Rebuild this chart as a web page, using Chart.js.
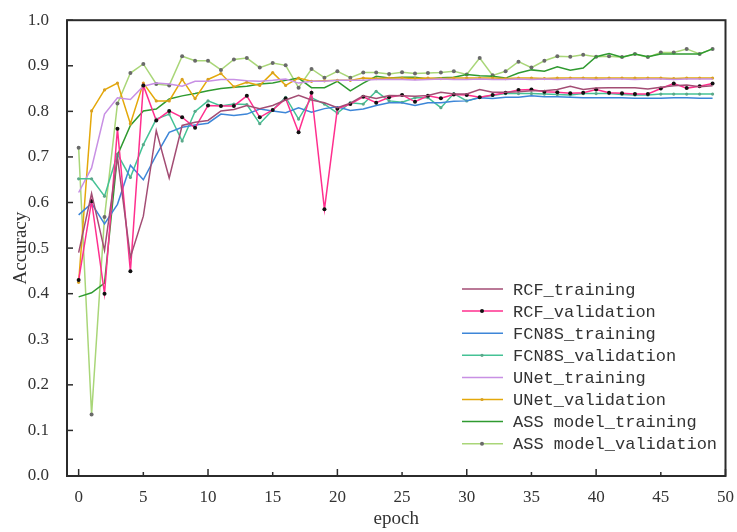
<!DOCTYPE html>
<html>
<head>
<meta charset="utf-8">
<script src="https://cdn.jsdelivr.net/npm/chart.js@4/dist/chart.umd.min.js"></script>
<style>
    html, body { margin: 0; padding: 0; background: #fff; }
    #wrap { width: 737px; height: 532px; }
</style>
</head>
<body>
<div id="wrap"><canvas id="accChart" width="737" height="532"></canvas></div>
<script>
const epochs = [0, 1, 2, 3, 4, 5, 6, 7, 8, 9, 10, 11, 12, 13, 14, 15, 16, 17, 18, 19,
    20, 21, 22, 23, 24, 25, 26, 27, 28, 29, 30, 31, 32, 33, 34, 35, 36, 37, 38, 39,
    40, 41, 42, 43, 44, 45, 46, 47, 48, 49];
const xTicks = [0, 5, 10, 15, 20, 25, 30, 35, 40, 45, 50];
const yTicks = [0, 0.1, 0.2, 0.3, 0.4, 0.5, 0.6, 0.7, 0.8, 0.9, 1.0];

const rcfTraining = [0.49, 0.62, 0.495, 0.70, 0.48, 0.57, 0.758, 0.654, 0.769, 0.776,
    0.78, 0.801, 0.804, 0.813, 0.806, 0.813, 0.825, 0.835, 0.825, 0.819,
    0.808, 0.818, 0.834, 0.828, 0.835, 0.834, 0.833, 0.835, 0.842, 0.838,
    0.838, 0.848, 0.842, 0.842, 0.843, 0.845, 0.845, 0.848, 0.855, 0.848,
    0.851, 0.852, 0.852, 0.852, 0.849, 0.853, 0.856, 0.858, 0.854, 0.856];
const rcfValidation = [0.43, 0.603, 0.40, 0.762, 0.449, 0.857, 0.78, 0.801, 0.787, 0.764,
    0.813, 0.812, 0.812, 0.834, 0.787, 0.803, 0.828, 0.754, 0.841, 0.585,
    0.806, 0.816, 0.832, 0.819, 0.831, 0.836, 0.821, 0.834, 0.829, 0.837,
    0.836, 0.831, 0.836, 0.841, 0.847, 0.848, 0.843, 0.842, 0.840, 0.841,
    0.848, 0.841, 0.840, 0.838, 0.838, 0.850, 0.861, 0.851, 0.855, 0.861];
const fcnTraining = [0.573, 0.598, 0.553, 0.596, 0.682, 0.650, 0.704, 0.754, 0.765, 0.770,
    0.774, 0.794, 0.791, 0.794, 0.805, 0.801, 0.797, 0.808, 0.798, 0.806,
    0.810, 0.802, 0.805, 0.813, 0.819, 0.819, 0.813, 0.819, 0.819, 0.822,
    0.823, 0.830, 0.828, 0.831, 0.831, 0.834, 0.832, 0.832, 0.831, 0.830,
    0.830, 0.830, 0.830, 0.829, 0.829, 0.829, 0.830, 0.830, 0.829, 0.829];
const fcnValidation = [0.652, 0.652, 0.614, 0.706, 0.655, 0.727, 0.783, 0.794, 0.735, 0.80,
    0.823, 0.812, 0.816, 0.815, 0.773, 0.803, 0.831, 0.783, 0.830, 0.816,
    0.796, 0.819, 0.816, 0.844, 0.823, 0.820, 0.830, 0.830, 0.808, 0.839,
    0.823, 0.831, 0.835, 0.839, 0.839, 0.839, 0.838, 0.837, 0.836, 0.839,
    0.839, 0.839, 0.837, 0.836, 0.836, 0.838, 0.838, 0.838, 0.838, 0.838];
const unetTraining = [0.622, 0.676, 0.794, 0.830, 0.826, 0.855, 0.862, 0.860, 0.855, 0.866,
    0.866, 0.870, 0.870, 0.867, 0.866, 0.868, 0.871, 0.862, 0.866, 0.866,
    0.868, 0.868, 0.868, 0.870, 0.870, 0.870, 0.869, 0.870, 0.871, 0.870,
    0.870, 0.871, 0.870, 0.870, 0.871, 0.870, 0.871, 0.870, 0.871, 0.871,
    0.870, 0.871, 0.871, 0.870, 0.871, 0.871, 0.870, 0.871, 0.871, 0.871];
const unetValidation = [0.425, 0.801, 0.847, 0.862, 0.773, 0.862, 0.823, 0.823, 0.870, 0.828,
    0.870, 0.883, 0.854, 0.864, 0.857, 0.885, 0.857, 0.873, 0.866, 0.867,
    0.868, 0.868, 0.873, 0.872, 0.873, 0.873, 0.872, 0.873, 0.872, 0.873,
    0.873, 0.873, 0.873, 0.872, 0.873, 0.873, 0.872, 0.873, 0.873, 0.873,
    0.873, 0.873, 0.873, 0.873, 0.873, 0.873, 0.872, 0.873, 0.873, 0.873];
const assTraining = [0.393, 0.402, 0.423, 0.704, 0.769, 0.801, 0.805, 0.827, 0.834, 0.839,
    0.845, 0.850, 0.853, 0.855, 0.860, 0.862, 0.868, 0.873, 0.852, 0.852,
    0.866, 0.845, 0.862, 0.877, 0.873, 0.875, 0.875, 0.871, 0.874, 0.875,
    0.881, 0.878, 0.877, 0.873, 0.884, 0.891, 0.888, 0.898, 0.890, 0.895,
    0.920, 0.927, 0.919, 0.926, 0.920, 0.926, 0.926, 0.926, 0.926, 0.937];
const assValidation = [0.72, 0.135, 0.568, 0.817, 0.884, 0.904, 0.860, 0.857, 0.921, 0.911,
    0.911, 0.891, 0.914, 0.917, 0.896, 0.906, 0.901, 0.852, 0.893, 0.874,
    0.888, 0.874, 0.885, 0.885, 0.882, 0.886, 0.883, 0.884, 0.885, 0.888,
    0.881, 0.917, 0.879, 0.888, 0.909, 0.896, 0.911, 0.921, 0.920, 0.924,
    0.920, 0.921, 0.919, 0.926, 0.919, 0.929, 0.929, 0.937, 0.926, 0.937];

const serif = '"Liberation Serif", "DejaVu Serif", serif';
const mono = '"Liberation Mono", "DejaVu Sans Mono", monospace';

function series(label, data, color, pointColor, radius) {
    return {
        label: label,
        data: data,
        borderColor: color,
        backgroundColor: pointColor || color,
        borderWidth: 1.5,
        pointRadius: radius || 0,
        pointBorderWidth: 0,
        pointBackgroundColor: pointColor || color,
        tension: 0,
        fill: false
    };
}

// frame, inside ticks and the legend placed in the lower right of the plot
const framePlugin = {
    id: 'frame',
    afterDraw(chart) {
        const ctx = chart.ctx;
        const a = chart.chartArea;
        const xs = chart.scales.x;
        const ys = chart.scales.y;
        ctx.save();
        ctx.strokeStyle = '#2b2b2b';
        ctx.lineWidth = 2;
        ctx.strokeRect(a.left, a.top, a.right - a.left, a.bottom - a.top);
        ctx.lineWidth = 1.5;
        xTicks.forEach(v => {
            const px = xs.getPixelForValue(v);
            const len = v % 10 === 0 ? 7 : 4;
            ctx.beginPath();
            ctx.moveTo(px, a.bottom);
            ctx.lineTo(px, a.bottom - len);
            ctx.stroke();
        });
        yTicks.forEach(v => {
            const py = ys.getPixelForValue(v);
            ctx.beginPath();
            ctx.moveTo(a.left, py);
            ctx.lineTo(a.left + 6, py);
            ctx.stroke();
        });

        // legend
        ctx.font = '17px ' + mono;
        ctx.textBaseline = 'middle';
        ctx.fillStyle = '#333';
        chart.data.datasets.forEach((ds, i) => {
            const y = 289 + i * 22.1;
            ctx.strokeStyle = ds.borderColor;
            ctx.lineWidth = 1.5;
            ctx.beginPath();
            ctx.moveTo(462, y);
            ctx.lineTo(503, y);
            ctx.stroke();
            if (ds.pointRadius > 0) {
                ctx.fillStyle = ds.pointBackgroundColor;
                ctx.beginPath();
                ctx.arc(482, y, ds.pointRadius, 0, Math.PI * 2);
                ctx.fill();
            }
            ctx.fillStyle = '#333';
            ctx.fillText(ds.label, 513, y + 1);
        });
        ctx.restore();
    }
};

let ctx = document.getElementById('accChart').getContext('2d');
new Chart(ctx, {
    type: 'line',
    data: {
        labels: epochs,
        datasets: [
            series('RCF_training', rcfTraining, '#a34d74'),
            series('RCF_validation', rcfValidation, '#ff2f8e', '#111', 2),
            series('FCN8S_training', fcnTraining, '#3d86d8'),
            series('FCN8S_validation', fcnValidation, '#45c295', '#5aa88a', 1.6),
            series('UNet_training', unetTraining, '#c890e4'),
            series('UNet_validation', unetValidation, '#e4a80a', '#d9a020', 1.6),
            series('ASS model_training', assTraining, '#2f9a30'),
            series('ASS model_validation', assValidation, '#a9d678', '#6a6a6a', 2)
        ]
    },
    options: {
        responsive: false,
        animation: false,
        layout: { padding: { left: 0, top: 12, right: 8, bottom: 0 } },
        plugins: {
            legend: { display: false },
            tooltip: { enabled: false }
        },
        scales: {
            x: {
                type: 'linear',
                min: -0.9,
                max: 50,
                afterBuildTicks: scale => {
                    scale.ticks = xTicks.map(v => ({ value: v }));
                },
                afterFit: scale => { scale.height = 56; },
                grid: { display: false },
                border: { display: false },
                ticks: {
                    padding: 3,
                    color: '#333',
                    font: { family: serif, size: 17 },
                    callback: v => String(v)
                },
                title: {
                    display: true,
                    text: 'epoch',
                    color: '#333',
                    font: { family: serif, size: 19 },
                    padding: { top: 0, bottom: 2 }
                }
            },
            y: {
                min: 0,
                max: 1,
                afterBuildTicks: scale => {
                    scale.ticks = yTicks.map(v => ({ value: v }));
                },
                afterFit: scale => { scale.width = 67; },
                grid: { display: false },
                border: { display: false },
                ticks: {
                    padding: 10,
                    color: '#333',
                    font: { family: serif, size: 17 },
                    callback: v => v.toFixed(1)
                },
                title: {
                    display: true,
                    text: 'Accuracy',
                    color: '#333',
                    font: { family: serif, size: 19 },
                    padding: { top: 10, bottom: 0 }
                }
            }
        }
    },
    plugins: [framePlugin]
});
</script>
</body>
</html>
